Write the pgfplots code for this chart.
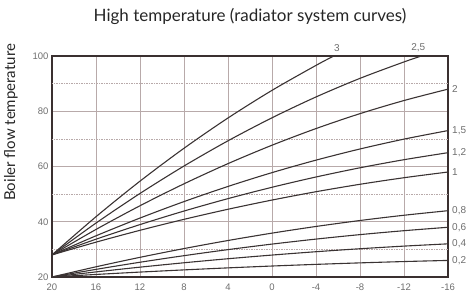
\documentclass[border=0pt]{standalone}
\usepackage{fontspec}
\setmainfont{Liberation Sans}
\newfontfamily\titlefont{Lato}
\usepackage{pgfplots}
\pgfplotsset{compat=1.18}
\definecolor{curve}{HTML}{3A3333}
\definecolor{framec}{HTML}{3A3030}
\definecolor{gridc}{HTML}{B8AAAA}
\definecolor{tickc}{HTML}{6E6E6E}
\definecolor{titlec}{HTML}{262626}
\pgfplotsset{hc/.style={curve, solid, line width=1.1pt, smooth, mark=none}}
\begin{document}
\begin{tikzpicture}
\begin{axis}[
  scale only axis, width=396pt, height=221pt,
  xmin=-16, xmax=20, ymin=20, ymax=100, x dir=reverse,
  clip=false,
  xtick={20,16,12,8,4,0,-4,-8,-12,-16},
  xticklabels={20,16,12,8,4,0,-4,-8,-12,-16},
  ytick={20,40,60,80,100}, yticklabels={20,40,60,80,100},
  major tick length=0pt,
  ticklabel style={font=\fontsize{9.5}{10}\selectfont, text=tickc},
  xticklabel style={anchor=north, yshift=-3.5pt},
  grid=major, major grid style={gridc, line width=0.8pt},
  extra y ticks={30,50,70,90}, extra y tick labels={},
  extra y tick style={major grid style={gridc, dash pattern=on 1.5pt off 1pt, line width=0.7pt}},
  axis line style={framec, line width=1.6pt},
  title={High temperature (radiator system curves)},
  title style={at={(axis description cs:0.5,1)}, anchor=base, yshift=28pt, font=\titlefont\fontsize{17}{17}\selectfont, text=titlec},
  ylabel={Boiler flow temperature},
  ylabel style={at={(axis description cs:-0.104,0.70)}, anchor=center, font=\titlefont\fontsize{15}{15}\selectfont, text=titlec},
]
% lower group (base 20)
\addplot[hc] coordinates {(20,20) (16,20.92) (12,21.78) (8,22.57) (4,23.30) (0,23.97) (-4,24.57) (-8,25.11) (-12,25.59) (-16,26.0)};
\addplot[hc] coordinates {(20,20) (16,21.84) (12,23.56) (8,25.15) (4,26.61) (0,27.94) (-4,29.15) (-8,30.23) (-12,31.18) (-16,32.0)};
\addplot[hc] coordinates {(20,20) (16,22.76) (12,25.34) (8,27.72) (4,29.91) (0,31.91) (-4,33.72) (-8,35.34) (-12,36.76) (-16,38.0)};
\addplot[hc] coordinates {(20,20) (16,23.69) (12,27.12) (8,30.29) (4,33.21) (0,35.88) (-4,38.29) (-8,40.45) (-12,42.35) (-16,44.0)};
% upper group (base 28)
\addplot[hc] coordinates {(20,28) (16,32.61) (12,36.90) (8,40.87) (4,44.52) (0,47.85) (-4,50.87) (-8,53.56) (-12,55.94) (-16,58.0)};
\addplot[hc] coordinates {(20,28) (16,33.68) (12,38.97) (8,43.87) (4,48.37) (0,52.48) (-4,56.20) (-8,59.53) (-12,62.46) (-16,65.0)};
\addplot[hc] coordinates {(20,28) (16,34.91) (12,41.34) (8,47.30) (4,52.78) (0,57.78) (-4,62.30) (-8,66.34) (-12,69.91) (-16,73.0)};
\addplot[hc] coordinates {(20,28) (16,37.21) (12,45.79) (8,53.73) (4,61.04) (0,67.70) (-4,73.73) (-8,79.13) (-12,83.88) (-16,88.0)};
\addplot[hc] coordinates {(20,28) (16,39.52) (12,50.24) (8,60.17) (4,69.30) (0,77.63) (-4,85.17) (-8,91.91) (-12,97.85) (-13.6,100)};
\addplot[hc] coordinates {(20,28) (16,41.82) (12,54.69) (8,66.60) (4,77.56) (0,87.56) (-4,96.60) (-5.62,100)};
% labels
\begin{scope}[every node/.style={font=\fontsize{10}{11}\selectfont, text=tickc, inner sep=0pt}]
\node[anchor=west, xshift=4pt] at (axis cs:-16,88) {2};
\node[anchor=west, xshift=4pt] at (axis cs:-16,73) {1,5};
\node[anchor=west, xshift=4pt] at (axis cs:-16,65) {1,2};
\node[anchor=west, xshift=4pt] at (axis cs:-16,58) {1};
\node[anchor=west, xshift=4pt] at (axis cs:-16,44) {0,8};
\node[anchor=west, xshift=4pt] at (axis cs:-16,38) {0,6};
\node[anchor=west, xshift=4pt] at (axis cs:-16,32) {0,4};
\node[anchor=west, xshift=4pt] at (axis cs:-16,26) {0,2};
\node[anchor=south, yshift=4pt] at (axis cs:-5.9,100) {3};
\node[anchor=south, yshift=4pt] at (axis cs:-13.3,100) {2,5};
\end{scope}
\end{axis}
\pgfresetboundingbox
\path ([shift={(-52pt,-18pt)}]current axis.south west) rectangle ([shift={(20pt,56pt)}]current axis.north east);
\end{tikzpicture}
\end{document}
